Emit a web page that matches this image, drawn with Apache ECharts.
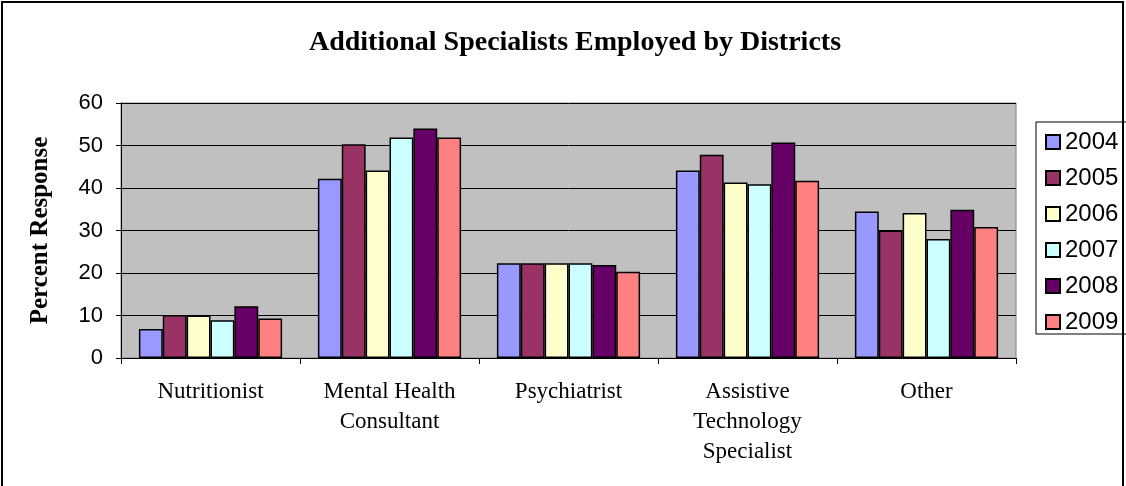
<!DOCTYPE html>
<html>
<head>
<meta charset="utf-8">
<script src="https://cdn.jsdelivr.net/npm/echarts@6/dist/echarts.min.js"></script>
<style>
  html, body { margin: 0; padding: 0; background: #fff; }
  #chart { width: 1126px; height: 486px; }
</style>
</head>
<body>
<div id="chart"></div>
<script>
// categories and per-year values (percent response)
var categories = ['Nutritionist', 'Mental Health\nConsultant', 'Psychiatrist', 'Assistive\nTechnology\nSpecialist', 'Other'];
var years = ['2004', '2005', '2006', '2007', '2008', '2009'];
var values2004 = [6.8, 42.2, 22.3, 44.1, 34.5];
var values2005 = [10.1, 50.3, 22.3, 47.8, 30.0];
var values2006 = [10.0, 44.1, 22.3, 41.3, 34.1];
var values2007 = [8.9, 51.9, 22.3, 40.9, 28.0];
var values2008 = [12.2, 54.0, 21.9, 50.7, 34.9];
var values2009 = [9.3, 51.9, 20.3, 41.7, 30.8];
var yTicks = [0, 10, 20, 30, 40, 50, 60];

var colors = ['#9999ff', '#993366', '#ffffcc', '#ccffff', '#660066', '#ff8080'];
var allValues = [values2004, values2005, values2006, values2007, values2008, values2009];

var chartDom = document.getElementById('chart');
var myChart = echarts.init(chartDom);

var series = years.map(function (y, i) {
    return {
        name: y,
        type: 'bar',
        barGap: '0%',
        barCategoryGap: '20%',
        itemStyle: {
            color: colors[i],
            borderColor: '#000',
            borderWidth: 1.5
        },
        data: allValues[i]
    };
});

var option = {
    animation: false,
    title: {
        text: 'Additional Specialists Employed by Districts',
        left: 570,
        textAlign: 'center',
        top: 24,
        textStyle: {
            fontFamily: 'Liberation Serif',
            fontWeight: 'bold',
            fontSize: 28,
            color: '#000'
        }
    },
    legend: {
        orient: 'vertical',
        left: 1036,
        top: 122,
        itemWidth: 14,
        itemHeight: 14,
        itemGap: 12,
        itemTextGap: 9,
        padding: [8, 40, 0, 9],
        borderColor: '#000',
        borderWidth: 1,
        icon: 'rect',
        data: years,
        textStyle: {
            fontFamily: 'Liberation Sans',
            fontSize: 24,
            lineHeight: 24,
            color: '#000'
        }
    },
    graphic: [{
        type: 'rect',
        shape: { x: 2, y: 2, width: 1121, height: 500 },
        style: { fill: null, stroke: '#000', lineWidth: 2 },
        silent: true
    }],
    grid: {
        left: 121,
        right: 110,
        top: 103,
        bottom: 128,
        show: true,
        backgroundColor: '#c0c0c0',
        borderColor: '#808080',
        borderWidth: 1
    },
    xAxis: {
        type: 'category',
        data: categories,
        axisLine: { lineStyle: { color: '#000', width: 1 } },
        axisTick: { show: true, length: 6, alignWithLabel: false, lineStyle: { color: '#000' } },
        axisLabel: {
            fontFamily: 'Liberation Serif',
            fontSize: 23,
            lineHeight: 30,
            color: '#000',
            margin: 19
        }
    },
    yAxis: {
        type: 'value',
        min: yTicks[0],
        max: yTicks[yTicks.length - 1],
        interval: 10,
        name: 'Percent Response',
        nameLocation: 'middle',
        nameGap: 68,
        nameTextStyle: {
            fontFamily: 'Liberation Serif',
            fontWeight: 'bold',
            fontSize: 25,
            color: '#000'
        },
        axisLine: { show: true, lineStyle: { color: '#000' } },
        axisTick: { show: true, length: 5, lineStyle: { color: '#000' } },
        axisLabel: {
            fontFamily: 'Liberation Sans',
            fontSize: 22,
            color: '#000',
            margin: 18
        },
        splitLine: { lineStyle: { color: '#000', width: 1 } }
    },
    series: series
};
myChart.setOption(option);
</script>
</body>
</html>
